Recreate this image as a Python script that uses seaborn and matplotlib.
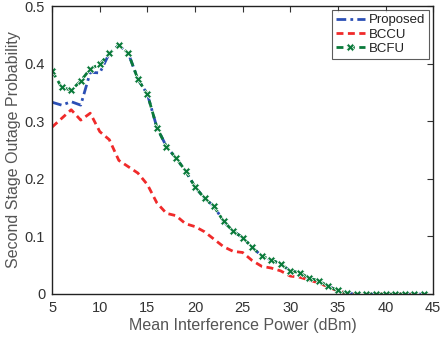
import numpy as np
import pandas as pd
import seaborn as sns
import matplotlib
matplotlib.use("Agg")
import matplotlib.pyplot as plt

power = list(range(5, 45))

bcfu = [0.387, 0.359, 0.354, 0.370, 0.391, 0.399, 0.418, 0.432, 0.418, 0.373,
        0.347, 0.289, 0.256, 0.236, 0.214, 0.186, 0.166, 0.152, 0.126, 0.109,
        0.098, 0.081, 0.066, 0.059, 0.052, 0.040, 0.037, 0.027, 0.023, 0.013,
        0.006, 0.001, 0, 0, 0, 0, 0, 0, 0, 0]

proposed = [0.333, 0.328, 0.334, 0.328, 0.385, 0.384, 0.418, 0.432, 0.418, 0.373,
            0.347, 0.289, 0.256, 0.236, 0.214, 0.186, 0.166, 0.152, 0.126, 0.109,
            0.098, 0.081, 0.066, 0.059, 0.052, 0.040, 0.037, 0.027, 0.023, 0.013,
            0.006, 0.001, 0, 0, 0, 0, 0, 0, 0, 0]

bccu = [0.290, 0.305, 0.320, 0.302, 0.314, 0.282, 0.268, 0.232, 0.221, 0.210,
        0.190, 0.158, 0.140, 0.136, 0.122, 0.117, 0.108, 0.095, 0.082, 0.074,
        0.072, 0.058, 0.048, 0.045, 0.040, 0.031, 0.029, 0.024, 0.019, 0.012,
        0.005, 0.001, 0, 0, 0, 0, 0, 0, 0, 0]

sns.set_style("white")
plt.rcParams["font.family"] = ["Liberation Sans", "DejaVu Sans"]

fig, ax = plt.subplots(figsize=(4.42, 3.41), dpi=100)
fig.subplots_adjust(left=0.118, right=0.980, top=0.982, bottom=0.138)

sns.lineplot(x=power, y=proposed, color="#2b4fb5", linewidth=2,
             linestyle=(0, (3.5, 1.5, 1, 1.5)), label="Proposed", ax=ax)
sns.lineplot(x=power, y=bccu, color="#f02a2a", linewidth=2,
             linestyle=(0, (2.5, 1.6)), label="BCCU", ax=ax)
sns.lineplot(x=power, y=bcfu, color="#0a7a3a", linewidth=2,
             linestyle=(0, (2.5, 1.6)), marker="X", markersize=6,
             markeredgewidth=0.5, label="BCFU", ax=ax)

ax.set_xlim(5, 45)
ax.set_ylim(0, 0.5)
ax.set_xticks(range(5, 46, 5))
ax.set_yticks([0, 0.1, 0.2, 0.3, 0.4, 0.5])
ax.set_yticklabels(["0", "0.1", "0.2", "0.3", "0.4", "0.5"])
ax.tick_params(direction="in", length=4, width=0.8, top=True, right=True,
               labelsize=10.5, labelcolor="#333333", color="#333333")
ax.tick_params(axis="x", pad=5)
ax.tick_params(axis="y", pad=5)
for s in ax.spines.values():
    s.set_color("#222222")
    s.set_linewidth(1)

ax.set_xlabel("Mean Interference Power (dBm)", fontsize=11.5, color="#555555", labelpad=2)
ax.set_ylabel("Second Stage Outage Probability", fontsize=11.5, color="#555555", labelpad=3)

leg = ax.legend(loc="upper right", fontsize=9.5, frameon=True, fancybox=False,
                borderaxespad=0.3, handlelength=2.2, handletextpad=0.3,
                borderpad=0.3, labelspacing=0.15)
leg.get_frame().set_edgecolor("#333333")
leg.get_frame().set_linewidth(0.8)
for t in leg.get_texts():
    t.set_color("#222222")

fig.savefig("out.png", dpi=100)
